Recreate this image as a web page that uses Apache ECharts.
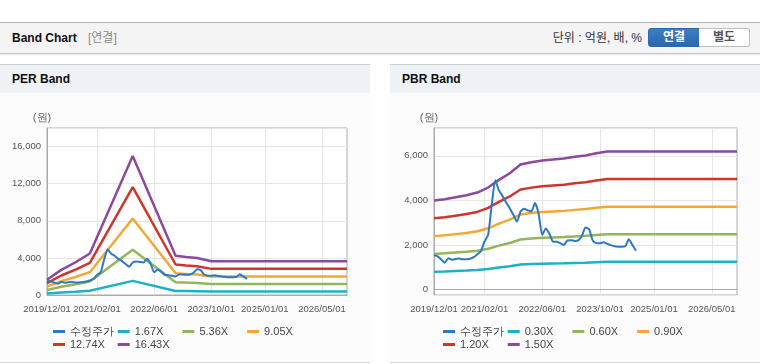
<!DOCTYPE html>
<html>
<head>
<meta charset="utf-8">
<script src="https://cdn.jsdelivr.net/npm/echarts@6/dist/echarts.min.js"></script>
<style>
  body { margin: 0; width: 760px; height: 364px; overflow: hidden; background: #fff; position: relative;
         font-family: "Liberation Sans", Arial, "Noto Sans CJK KR", sans-serif; }
  .top { position: absolute; left: 0; top: 22px; width: 760px; height: 30px; line-height: 30px;
         background: #f4f4f4; border-top: 1px solid #b9b9b9; border-bottom: 1px solid #c6c6c6;
         box-shadow: 0 1px 2px rgba(0,0,0,0.10); }
  .top .title { position: absolute; left: 12px; font-size: 12px; font-weight: bold; color: #111; }
  .top .sub { position: absolute; left: 88px; font-size: 12px; color: #8a8a8a; }
  .top .unit { position: absolute; right: 118px; font-size: 12px; color: #333; }
  .btn { position: absolute; top: 28px; height: 17px; line-height: 17px; width: 50px; text-align: center;
         font-size: 12px; font-weight: bold; }
  .btn.on { left: 648px; background: linear-gradient(#3c7ec4, #2b67ad); color: #fff;
            border: 1px solid #2c67aa; border-radius: 3px 0 0 3px; }
  .btn.off { left: 699px; background: #fff; color: #555; border: 1px solid #bdbdbd; border-left: none;
             border-radius: 0 3px 3px 0; }
  .panel { position: absolute; top: 64px; width: 370px; background: #fcfcfc;
           border-top: 1px solid #cfcfcf; border-bottom: 1px solid #d9d9d9; }
  .panel .head { height: 28px; line-height: 28px; background: #eef2f7; padding-left: 12px;
                 font-size: 12px; font-weight: bold; color: #111; }
  .chart { width: 370px; height: 269px; }
</style>
</head>
<body>
<div class="top">
  <span class="title">Band Chart</span><span class="sub">[연결]</span>
  <span class="unit">단위 : 억원, 배, %</span>
</div>
<div class="btn on">연결</div>
<div class="btn off">별도</div>

<div class="panel" style="left:0">
  <div class="head">PER Band</div>
  <div id="per" class="chart"></div>
</div>
<div class="panel" style="left:390px">
  <div class="head">PBR Band</div>
  <div id="pbr" class="chart"></div>
</div>

<script>
// monthly categories 2019/12 .. 2026/12
const months = []
for (let i = 0; i < 85; i++) {
    const d = new Date(2019, 11 + i, 1)
    months.push(d.getFullYear() + '/' + String(d.getMonth() + 1).padStart(2, '0') + '/01')
}
const tickLabels = ['2019/12/01', '2021/02/01', '2022/06/01', '2023/10/01', '2025/01/01', '2026/05/01']

// 수정주가 (monthly, 2019/12 ~ 2024/08)
const price = [
    1540, 1480, 1350, 1200, 1400, 1330, 1370, 1390, 1350, 1360,
    1380, 1450, 1580, 1720, 2150, 2450, 3800, 4900, 4450, 4200,
    3900, 3650, 3350, 3050, 3500, 3620, 3550, 3500, 3880, 3400,
    2450, 2740, 2500, 2150, 2140, 2080, 2000, 2200, 2210, 2180,
    2200, 2400, 2780, 2700, 2200, 2080, 2070, 2120, 2050, 1990,
    1940, 1920, 1920, 1930, 2250, 2000, 1740
]

// EPS used for PER band
const epsDates = ['2019/12/01', '2020/04/01', '2020/08/01', '2020/12/01', '2021/12/01',
                  '2022/12/01', '2023/03/01', '2023/06/01', '2023/10/01', '2026/12/01']
const eps = [100, 165, 215, 272, 912, 258, 250, 243, 221, 221]
const perMultiples = [1.67, 5.36, 9.05, 12.74, 16.43]

// BPS used for PBR band
const bpsDates = ['2019/12/01', '2020/03/01', '2020/06/01', '2020/09/01', '2020/12/01', '2021/03/01',
                  '2021/06/01', '2021/09/01', '2021/12/01', '2022/03/01', '2022/06/01', '2022/09/01',
                  '2022/12/01', '2023/03/01', '2023/06/01', '2023/09/01', '2023/12/01', '2026/12/01']
const bps = [2660, 2700, 2760, 2820, 2900, 3050, 3280, 3480, 3740, 3810, 3860, 3890,
             3920, 3970, 4010, 4080, 4130, 4130]
const pbrMultiples = [0.30, 0.60, 0.90, 1.20, 1.50]

const colors = ['#2f78c4', '#1cb2c6', '#92b65b', '#f5a733', '#d0352b', '#8b4a9c']

function bandData(dates, base, k) {
    return months.map(m => {
        const i = dates.indexOf(m)
        return i < 0 ? null : Math.round(base[i] * k)
    })
}

// one legend per item so the columns line up like the original grid
function legends(names) {
    return names.map((n, i) => ({
        left: 53 + (i % 4) * 64.7,
        top: i < 4 ? 233 : 246,
        padding: 0,
        icon: 'rect',
        itemWidth: 12,
        itemHeight: 3,
        data: [n],
        textStyle: { fontSize: 11, color: '#444' }
    }))
}

function buildOption(dates, base, mults, gridLeft, yAxis) {
    const names = mults.map(k => k.toFixed(2) + 'X')
    const series = [{
        name: '수정주가',
        type: 'line',
        data: price,
        symbol: 'none',
        smooth: 0.2,
        z: 5,
        lineStyle: { width: 2, color: colors[0] },
        itemStyle: { color: colors[0] }
    }]
    mults.forEach((k, i) => {
        series.push({
            name: names[i],
            type: 'line',
            data: bandData(dates, base, k),
            connectNulls: true,
            symbol: 'none',
            z: 2,
            lineStyle: { width: 2.5, color: colors[i + 1] },
            itemStyle: { color: colors[i + 1] }
        })
    })
    const showTick = (i, v) => tickLabels.indexOf(v) >= 0
    return {
        animation: false,
        grid: {
            left: gridLeft, right: 23, top: 35, bottom: 67,
            show: true, borderColor: '#aaa', borderWidth: 1, backgroundColor: '#fff'
        },
        legend: legends(['수정주가'].concat(names)),
        xAxis: {
            type: 'category',
            data: months,
            boundaryGap: false,
            axisLine: { lineStyle: { color: '#aaa' } },
            axisTick: { show: false },
            axisLabel: {
                interval: showTick, showMinLabel: true, showMaxLabel: true,
                color: '#555', fontSize: 9.5, margin: 9
            },
            splitLine: { show: true, interval: showTick, lineStyle: { color: '#e6e6e6' } }
        },
        yAxis: Object.assign({
            type: 'value',
            name: '(원)',
            nameLocation: 'end',
            nameGap: 5,
            nameTextStyle: { color: '#666', fontSize: 11, padding: [0, 10, 0, 0] },
            axisLine: { show: true, lineStyle: { color: '#aaa' } },
            axisTick: { show: false },
            splitLine: { lineStyle: { color: '#e6e6e6' } }
        }, yAxis),
        series: series
    }
}

const perChart = echarts.init(document.getElementById('per'))
perChart.setOption(buildOption(epsDates, eps, perMultiples, 47, {
    min: 0, max: 18000, interval: 4000,
    axisLabel: { showMaxLabel: false, color: '#555', fontSize: 9.5, margin: 6 }
}))

const pbrChart = echarts.init(document.getElementById('pbr'))
pbrChart.setOption(buildOption(bpsDates, bps, pbrMultiples, 44, {
    min: -250, max: 7250, splitNumber: 4,
    axisLabel: { showMaxLabel: false, showMinLabel: false, color: '#555', fontSize: 9.5, margin: 6 }
}))
</script>
</body>
</html>
